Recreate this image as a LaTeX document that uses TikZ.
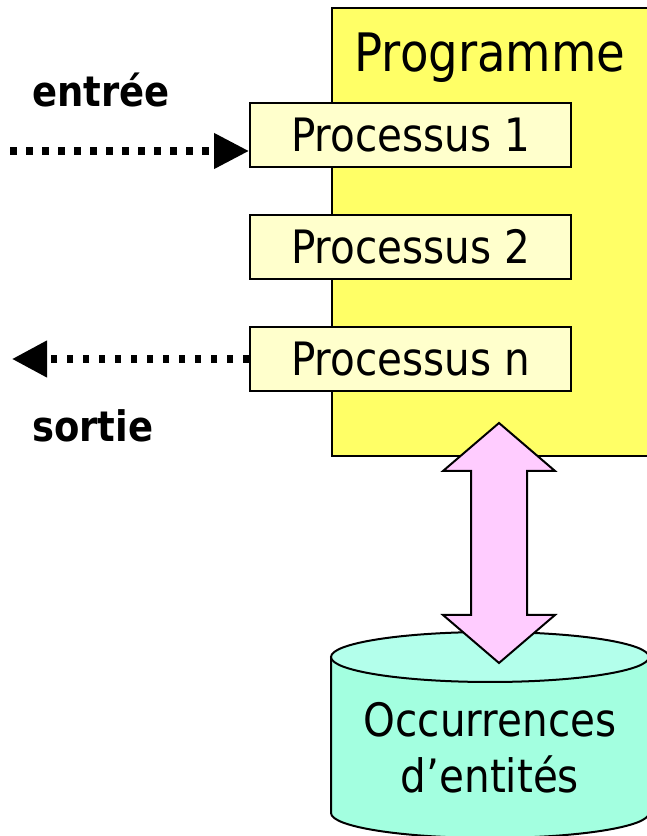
\documentclass[tikz,border=0pt]{standalone}
\usepackage{fontspec}
\setmainfont{DejaVu Sans}[FakeStretch=0.88]
\usetikzlibrary{arrows.meta}
\definecolor{progfill}{HTML}{FFFF66}
\definecolor{procfill}{HTML}{FFFFCC}
\definecolor{pinkfill}{HTML}{FFCCFF}
\definecolor{cyltop}{HTML}{B3FFEB}
\definecolor{cylbody}{HTML}{A3FFE0}
\begin{document}
\begin{tikzpicture}[x=1pt,y=1pt,
  outline/.style={draw=black, line width=2pt},
  progbox/.style={outline, fill=progfill, minimum width=330pt, minimum height=448pt, inner sep=0pt, anchor=north west},
  procbox/.style={outline, fill=procfill, minimum width=321pt, minimum height=64pt, inner sep=0pt, font=\fontsize{46}{50}\selectfont},
  dotline/.style={line width=7.5pt, dash pattern=on 6.5pt off 9.5pt},
  bigtext/.style={inner sep=0pt, anchor=base},
  lbl/.style={inner sep=0pt, anchor=base west, font=\fontsize{42}{46}\selectfont\bfseries}]
\useasboundingbox (0,0) rectangle (646,836);
% Programme
\node[progbox] (prog) at (331,829) {};
\node[bigtext, font=\fontsize{53}{58}\selectfont] (progtitle) at (490,764) {Programme};
% Processus
\node[procbox] (p1) at (410.5,701) {Processus 1};
\node[procbox] (p2) at (410.5,589) {Processus 2};
\node[procbox] (pn) at (410.5,477) {Processus n};
% labels
\node[lbl] (entree) at (32,729) {entrée};
\node[lbl] (sortie) at (32,394) {sortie};
% dotted arrows
\coordinate (inStart) at (10,685);
\coordinate (outEnd) at (12,477);
\draw[dotline, -{Triangle[length=35pt,width=34pt]}] (inStart) -- (inStart -| p1.west);
\draw[dotline, -{Triangle[length=35pt,width=35pt]}] (pn.west) -- (outEnd);
% cylinder
\fill[cylbody] (331,179) -- (331,23) arc[start angle=180,end angle=360,x radius=159,y radius=25] -- (649,179) -- cycle;
\draw[outline] (331,179) -- (331,23) arc[start angle=180,end angle=360,x radius=159,y radius=25] -- (649,179);
\draw[outline, fill=cyltop] (490,179) ellipse[x radius=159, y radius=25];
\node[bigtext, font=\fontsize{46}{50}\selectfont] (occ) at (490,99) {Occurrences};
\node[bigtext, font=\fontsize{46}{50}\selectfont] (ent) at (490,43) {d’entités};
% double block arrow
\draw[outline, fill=pinkfill, line join=miter]
  (499,413) -- (555,365) -- (527,365) -- (527,221) -- (555,221) -- (499,173)
  -- (443,221) -- (471,221) -- (471,365) -- (443,365) -- cycle;
\end{tikzpicture}
\end{document}
